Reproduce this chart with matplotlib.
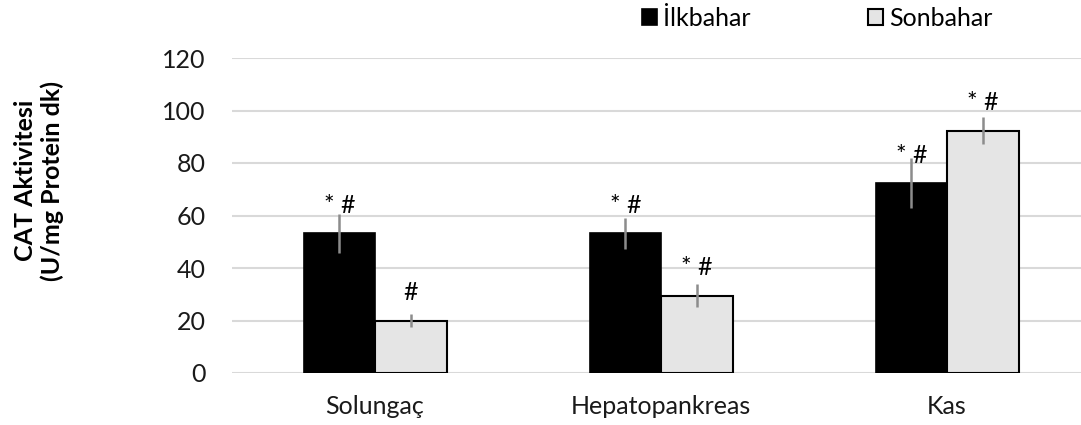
import matplotlib.pyplot as plt
import numpy as np

plt.rcParams['font.family'] = ['Lato', 'DejaVu Sans']

categories = ['Solungaç', 'Hepatopankreas', 'Kas']
seasons = ['İlkbahar', 'Sonbahar']
ilkbahar = [53.2, 53.2, 72.3]
ilkbahar_err = [7.5, 6.0, 9.5]
sonbahar = [20.0, 29.5, 92.3]
sonbahar_err = [2.5, 4.3, 5.2]
ilkbahar_marks = ['* #', '* #', '* #']
sonbahar_marks = ['#', '* #', '* #']
yticks = [0, 20, 40, 60, 80, 100, 120]

fs = 18

fig = plt.figure(figsize=(10.81, 4.25), dpi=100)
ax = fig.add_axes([232 / 1081, 1 - 373 / 425, 1 - 232 / 1081, (373 - 58) / 425])

x = np.arange(len(categories))
w = 0.25
grid_c = '#D9D9D9'

# grid first so bars sit on top
for t in yticks:
    ax.axhline(t, color=grid_c, lw=1.5, zorder=0)

b1 = ax.bar(x - w / 2, ilkbahar, w, color='black', edgecolor='black', lw=1.2, zorder=2,
            label=seasons[0])
b2 = ax.bar(x + w / 2, sonbahar, w, color='#E5E5E5', edgecolor='black', lw=1.5, zorder=2,
            label=seasons[1])
ax.errorbar(x - w / 2, ilkbahar, yerr=ilkbahar_err, fmt='none', ecolor='#8C8C8C',
            elinewidth=1.8, capsize=0, zorder=3)
ax.errorbar(x + w / 2, sonbahar, yerr=sonbahar_err, fmt='none', ecolor='#8C8C8C',
            elinewidth=1.8, capsize=0, zorder=3)

# significance marks above each bar
for xs, vals, marks in [(x - w / 2, ilkbahar, ilkbahar_marks), (x + w / 2, sonbahar, sonbahar_marks)]:
    for xi, v, m in zip(xs, vals, marks):
        ax.annotate(m, (xi, v), xytext=(0, 20), textcoords='offset points',
                    ha='center', va='center', fontsize=fs, zorder=4)

ax.set_xlim(-0.5, -0.5 + (1081 - 232) / 286)
ax.set_ylim(0, 120)
ax.set_yticks(yticks)
ax.set_xticks(x)
ax.set_xticklabels(categories)
ax.tick_params(axis='both', length=0, labelsize=fs, colors='#1a1a1a')
ax.tick_params(axis='y', pad=19)
ax.tick_params(axis='x', pad=16)
for s in ax.spines.values():
    s.set_visible(False)

fig.text(0.036, 0.575, 'CAT Aktivitesi\n(U/mg Protein dk)', rotation=90, ha='center',
         va='center', fontsize=fs, fontweight='bold', linespacing=1.2)

fig.legend(handles=[b1, b2], loc='center left', bbox_to_anchor=(629 / 1081, 1 - 18 / 425),
           ncol=2, frameon=False, fontsize=fs, handlelength=0.6, handleheight=0.6,
           handletextpad=0.25, columnspacing=4.7, borderpad=0)

fig.savefig('out.png', dpi=100)
